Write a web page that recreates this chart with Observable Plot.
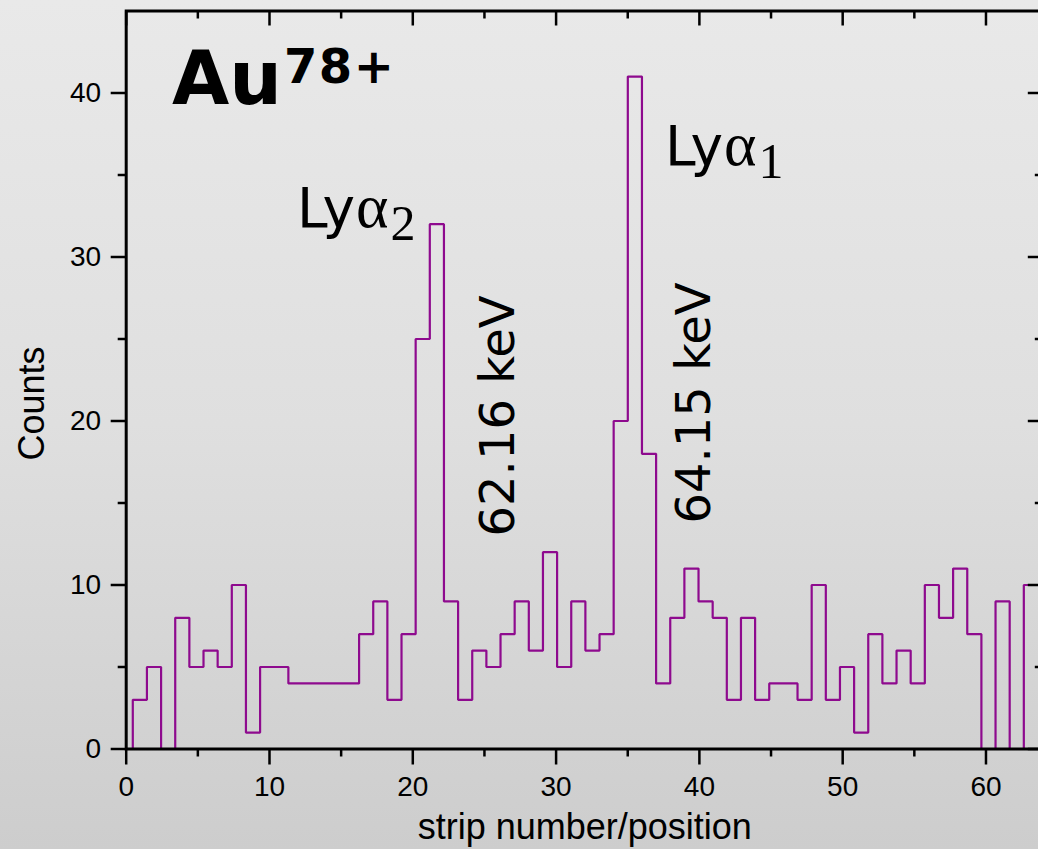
<!DOCTYPE html>
<html><head><meta charset="utf-8">
<script src="https://cdn.jsdelivr.net/npm/d3@7"></script>
<script src="https://cdn.jsdelivr.net/npm/@observablehq/plot@0.6"></script>
<style>
html,body{margin:0;padding:0;overflow:hidden;width:1038px;height:849px;}
body{background:linear-gradient(to bottom,#e9e9e9 0%,#dfdfdf 50%,#cdcdcd 100%);}
#chart svg{display:block;max-width:none !important;width:1050px !important;height:849px !important;}
</style></head><body><div id="chart"></div>
<script>
// Counts per strip (64 strips)
const counts = [3,5,0,8,5,6,5,10,1,5, 5,4,4,4,4,4,7,9,3,7, 25,32,9,3,6,5,7,9,6,12, 5,9,6,7,20,41,18,4,8,11, 9,8,3,8,3,4,4,3,10,3, 5,1,7,4,6,4,10,8,11,7, 0,9,0,10];
// strip position mapping (left edge of first strip, strip pitch)
const stripStart = 0.46, stripWidth = 0.987;
const xMajor = [0,10,20,30,40,50,60];
const xMinor = [5,15,25,35,45,55];
const yMajor = [0,10,20,30,40];
const yMinor = [5,15,25,35];
const peakLabels = [{text:"62.16 keV", x:27.03, y:12.96},{text:"64.15 keV", x:40.77, y:13.75}];
const lines = [{sub:"2", x:11.95, y:31.8},{sub:"1", x:37.63, y:35.58}];
const ion = {base:"Au", sup:"78+", x:3.23, y:39.3};

const edge = k => stripStart + stripWidth * k;
const pts = [{x: edge(0), y: 0}, ...counts.map((c,i)=>({x: edge(i), y: c})), {x: edge(counts.length), y: counts[counts.length-1]}];

const W = 1050, H = 849;
const mL = 125.7, mR = W - 1042.8, mT = 10.5, mB = H - 748.5;
const pw = W - mL - mR, ph = H - mT - mB;
const tw = 2.5;

const plot = Plot.plot({
  width: W, height: H,
  marginLeft: mL, marginRight: mR, marginTop: mT, marginBottom: mB,
  x: {domain: [0, 64]},
  y: {domain: [0, 45]},
  style: {background: "transparent", fontFamily: "'Liberation Sans', Arial, sans-serif", color: "black", overflow: "visible"},
  marks: [
    Plot.lineY(pts, {x: "x", y: "y", curve: "step-after", stroke: "#8e0a8e", strokeWidth: 2.2, strokeLinejoin: "miter", clip: true}),
    // bottom ticks (outward)
    Plot.ruleX(xMajor, {x: d => d, insetTop: ph, insetBottom: -16, stroke: "black", strokeWidth: tw}),
    Plot.ruleX(xMinor, {x: d => d, insetTop: ph, insetBottom: -8, stroke: "black", strokeWidth: tw}),
    // top ticks (inward)
    Plot.ruleX(xMajor, {x: d => d, insetTop: 0, insetBottom: ph - 15, stroke: "black", strokeWidth: tw}),
    Plot.ruleX(xMinor, {x: d => d, insetTop: 0, insetBottom: ph - 8, stroke: "black", strokeWidth: tw}),
    // left ticks (outward)
    Plot.ruleY(yMajor, {y: d => d, insetLeft: -15, insetRight: pw, stroke: "black", strokeWidth: tw}),
    Plot.ruleY(yMinor, {y: d => d, insetLeft: -8, insetRight: pw, stroke: "black", strokeWidth: tw}),
    // right ticks (inward)
    Plot.ruleY(yMajor, {y: d => d, insetLeft: pw - 15, insetRight: 0, stroke: "black", strokeWidth: tw}),
    Plot.ruleY(yMinor, {y: d => d, insetLeft: pw - 8, insetRight: 0, stroke: "black", strokeWidth: tw}),
    Plot.frame({stroke: "black", strokeWidth: 3}),
    Plot.axisX({ticks: xMajor, tickSize: 0, tickPadding: 27, fontSize: 28, label: null}),
    Plot.axisY({ticks: yMajor, tickSize: 0, tickPadding: 25, fontSize: 28, label: null}),
    Plot.text(["strip number/position"], {frameAnchor: "bottom", dy: 89.5, lineAnchor: "bottom", fontSize: 36, fill: "black"}),
    Plot.text(["Counts"], {frameAnchor: "left", dx: -82.5, dy: 23.5, rotate: -90, lineAnchor: "bottom", textAnchor: "middle", fontSize: 36, fill: "black"}),
    Plot.text(peakLabels, {x: "x", y: "y", text: "text", rotate: -90, textAnchor: "start", lineAnchor: "bottom", fontSize: 48, fontFamily: "'DejaVu Sans', sans-serif", fill: "black"})
  ]
});

const svg = d3.select(plot);
const X = plot.scale("x"), Y = plot.scale("y");
const g = svg.append("g").attr("fill", "black").attr("text-anchor", "start");
const au = g.append("text").attr("x", X.apply(ion.x)).attr("y", Y.apply(ion.y)).attr("text-anchor", "start")
  .attr("font-family", "'DejaVu Sans', sans-serif").attr("font-weight", "bold").attr("font-size", 74);
au.append("tspan").text(ion.base);
au.append("tspan").attr("font-size", 48).attr("dy", -21).attr("dx", 2).attr("letter-spacing", 1.5).text(ion.sup);

for (const l of lines) {
  const t = g.append("text").attr("x", X.apply(l.x)).attr("y", Y.apply(l.y)).attr("text-anchor", "start")
    .attr("font-size", 55).attr("font-family", "'DejaVu Sans', sans-serif");
  t.append("tspan").text("Ly");
  t.append("tspan").attr("font-family", "'Liberation Serif', serif").attr("font-size", 62).attr("dx", 1).text("α");
  t.append("tspan").attr("font-family", "'Liberation Serif', serif").attr("font-size", 50).attr("dx", 2).attr("dy", 13).text(l.sub);
}

document.getElementById("chart").appendChild(plot);
</script>
</body></html>
